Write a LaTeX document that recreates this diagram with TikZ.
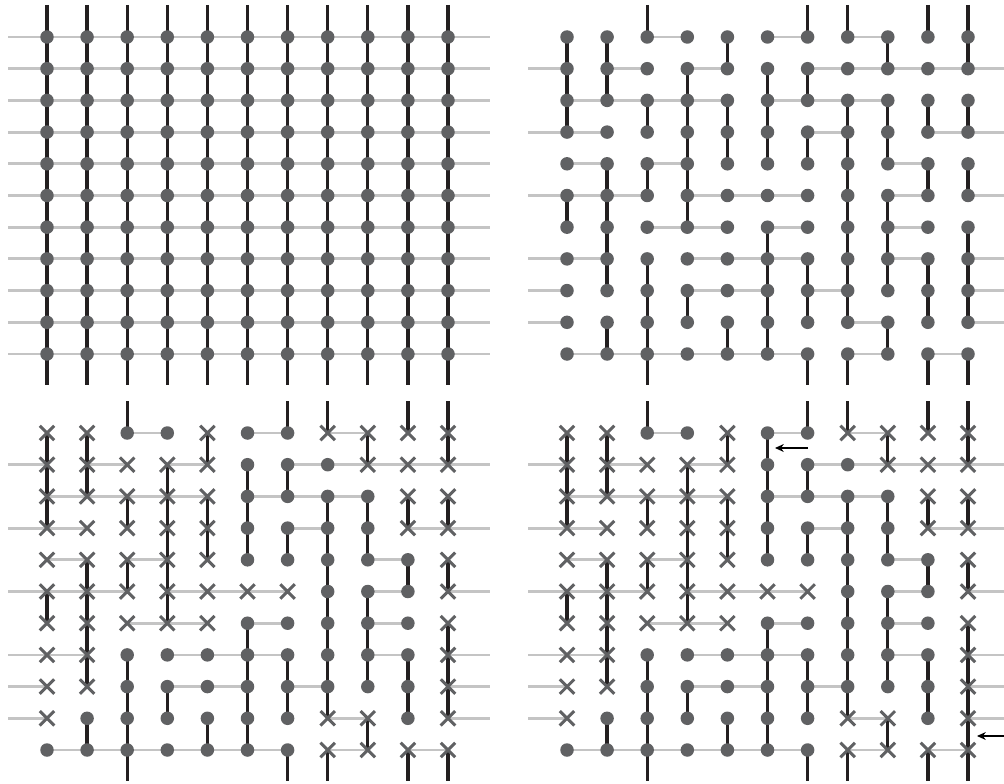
\documentclass[tikz,border=0pt]{standalone}
\usetikzlibrary{arrows.meta, shapes.misc}

\definecolor{sitegray}{RGB}{96,97,99}
\definecolor{bondgray}{RGB}{196,196,196}
\definecolor{bondblack}{RGB}{35,31,32}

\pgfdeclarelayer{bonds}
\pgfsetlayers{bonds,main}

\begin{document}
\begin{tikzpicture}[
    x=0.02cm, y=-0.02cm,
    site o/.style={circle, fill=sitegray, inner sep=0pt, minimum size=0.27cm},
    site x/.style={cross out, draw=sitegray, line width=1.7pt, inner sep=0pt, minimum size=0.23cm},
    hbond/.style={draw=bondgray, line width=1.6pt},
    vbond/.style={draw=bondblack, line width=1.9pt},
    marker/.style={-{Stealth[length=5pt, width=4.5pt]}, line width=0.6pt, black}
  ]
  \useasboundingbox (0,0) rectangle (1004,784);

  % sites of the two upper panels
  \foreach \p/\ox in {tl/0, tr/520}
    \foreach \r in {1,...,11}
      \foreach \c in {1,...,11}
        \node[site o] (\p-\c-\r) at ({\ox+47+40.1*(\c-1)}, {37+31.7*(\r-1)}) {};

  % sites of the two lower panels (x = crossed out)
  \foreach \p/\ox in {bl/0, br/520}
    \foreach \row [count=\r] in {
        {x,x,o,o,x,o,o,x,x,x,x},
        {x,x,x,x,x,o,o,o,x,x,x},
        {x,x,x,x,x,o,o,o,o,x,x},
        {x,x,x,x,x,o,o,o,o,x,x},
        {x,x,x,x,x,o,o,o,o,o,x},
        {x,x,x,x,x,x,x,o,o,o,x},
        {x,x,x,x,x,o,o,o,o,o,x},
        {x,x,o,o,o,o,o,o,o,o,x},
        {x,x,o,o,o,o,o,o,o,o,x},
        {x,o,o,o,o,o,o,x,x,o,x},
        {o,o,o,o,o,o,o,x,x,x,x}}
      \foreach \k [count=\c] in \row
        \node[site \k] (\p-\c-\r) at ({\ox+47+40.1*(\c-1)}, {396+37+31.7*(\r-1)}) {};

  % free ends of the boundary bonds
  \foreach \p/\ox/\oy in {tl/0/0, tr/520/0, bl/0/396, br/520/396} {
    \foreach \r in {1,...,11} {
      \coordinate (\p-wl-\r) at (\ox+8, {\oy+37+31.7*(\r-1)});
      \coordinate (\p-wr-\r) at (\ox+490, {\oy+37+31.7*(\r-1)});
    }
    \foreach \c in {1,...,11} {
      \coordinate (\p-wt-\c) at ({\ox+47+40.1*(\c-1)}, \oy+5);
      \coordinate (\p-wb-\c) at ({\ox+47+40.1*(\c-1)}, \oy+385);
    }
  }

  \begin{pgfonlayer}{bonds}
    % full lattice
    \foreach \r in {1,...,11} {
      \draw[hbond] (tl-wl-\r) -- (tl-1-\r.center);
      \draw[hbond] (tl-11-\r.center) -- (tl-wr-\r);
      \foreach \c [evaluate=\c as \d using int(\c+1)] in {1,...,10}
        \draw[hbond] (tl-\c-\r.center) -- (tl-\d-\r.center);
    }
    \foreach \c in {1,...,11} {
      \draw[vbond] (tl-wt-\c) -- (tl-\c-1.center);
      \draw[vbond] (tl-\c-11.center) -- (tl-wb-\c);
      \foreach \r [evaluate=\r as \s using int(\r+1)] in {1,...,10}
        \draw[vbond] (tl-\c-\r.center) -- (tl-\c-\s.center);
    }

    % diluted lattice, same bonds in three panels
    \foreach \p in {tr,bl,br} {
      % horizontal bonds c -- c+1 in row r
      \foreach \c/\r [evaluate=\c as \d using int(\c+1)] in {
          3/1, 6/1, 8/1,
          2/2, 4/2, 7/2, 8/2, 9/2, 10/2,
          1/3, 2/3, 3/3, 4/3, 6/3, 7/3, 8/3,
          1/4, 7/4, 10/4,
          1/5, 3/5, 9/5,
          1/6, 2/6, 4/6, 5/6, 6/6, 9/6,
          3/7, 4/7, 6/7, 9/7,
          1/8, 4/8, 5/8, 6/8, 9/8,
          4/9, 5/9, 7/9,
          8/10,
          1/11, 2/11, 3/11, 4/11, 5/11, 6/11, 8/11, 10/11}
        \draw[hbond] (\p-\c-\r.center) -- (\p-\d-\r.center);
      \foreach \r in {2,4,6,8,9,10} {
        \draw[hbond] (\p-wl-\r) -- (\p-1-\r.center);
        \draw[hbond] (\p-11-\r.center) -- (\p-wr-\r);
      }
      % vertical bonds r -- r+1 in column c
      \foreach \c/\r [evaluate=\r as \s using int(\r+1)] in {
          1/1, 1/2, 1/3, 1/6,
          2/1, 2/2, 2/5, 2/6, 2/7, 2/8, 2/10,
          3/3, 3/5, 3/8, 3/9, 3/10,
          4/2, 4/3, 4/4, 4/5, 4/6, 4/9,
          5/1, 5/3, 5/4, 5/10,
          6/2, 6/3, 6/4, 6/7, 6/8, 6/9, 6/10,
          7/2, 7/4, 7/8, 7/9,
          8/3, 8/4, 8/5, 8/6, 8/7, 8/8, 8/9,
          9/1, 9/3, 9/4, 9/6, 9/7, 9/8, 9/10,
          10/3, 10/5, 10/8, 10/9,
          11/1, 11/3, 11/5, 11/7, 11/8, 11/9}
        \draw[vbond] (\p-\c-\r.center) -- (\p-\c-\s.center);
      \foreach \c in {3,7,8,10,11} {
        \draw[vbond] (\p-wt-\c) -- (\p-\c-1.center);
        \draw[vbond] (\p-\c-11.center) -- (\p-wb-\c);
      }
    }
    % two extra bonds
    \draw[vbond] (br-6-1.center) -- (br-6-2.center);
    \draw[vbond] (br-11-10.center) -- (br-11-11.center);
  \end{pgfonlayer}

  % arrows to the extra bonds
  \coordinate (add1-from) at (808,448);
  \coordinate (add1-to) at (775,448);
  \coordinate (add2-from) at (1004,736);
  \coordinate (add2-to) at (977,736);
  \draw[marker] (add1-from) -- (add1-to);
  \draw[marker] (add2-from) -- (add2-to);

\end{tikzpicture}
\end{document}
